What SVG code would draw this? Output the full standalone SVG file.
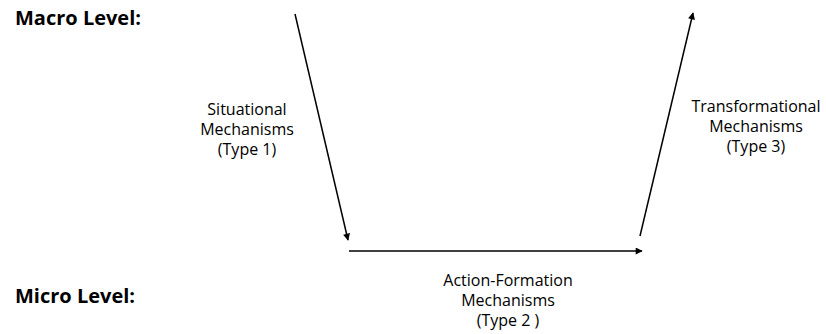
<svg xmlns="http://www.w3.org/2000/svg" width="826" height="334" viewBox="0 0 826 334">
<style>
.lvl{font-family:"Open Sans","Liberation Sans",sans-serif;font-weight:bold;font-size:20px;fill:#000}
.lbl{font-family:"Open Sans","Liberation Sans",sans-serif;font-size:16px;fill:#000;text-anchor:middle}
.arr{stroke:#000;stroke-width:1.5;fill:none;marker-end:url(#ah)}
</style>
<defs>
<marker id="ah" viewBox="0 0 10 10" refX="9" refY="5" markerWidth="9" markerHeight="7" markerUnits="userSpaceOnUse" orient="auto">
<path d="M0,0 L10,5 L0,10 z" fill="#000"/>
</marker>
</defs>
<rect width="826" height="334" fill="#fff"/>
<g id="macro-level"><text class="lvl" x="15" y="25">Macro Level:</text></g>
<g id="micro-level"><text class="lvl" x="15" y="303">Micro Level:</text></g>
<g id="type1-label"><text class="lbl" x="247" y="115">Situational</text><text class="lbl" x="247" y="135">Mechanisms</text><text class="lbl" x="247" y="155">(Type 1)</text></g>
<g id="type2-label"><text class="lbl" x="508" y="286">Action-Formation</text><text class="lbl" x="508" y="306">Mechanisms</text><text class="lbl" x="508" y="326">(Type 2 )</text></g>
<g id="type3-label"><text class="lbl" x="756" y="112">Transformational</text><text class="lbl" x="756" y="132">Mechanisms</text><text class="lbl" x="756" y="152">(Type 3)</text></g>
<g id="connectors">
<line class="arr" x1="295" y1="14" x2="348" y2="240"/>
<line class="arr" x1="349" y1="251" x2="642" y2="251"/>
<line class="arr" x1="640" y1="236" x2="693" y2="13"/>
</g>
</svg>
